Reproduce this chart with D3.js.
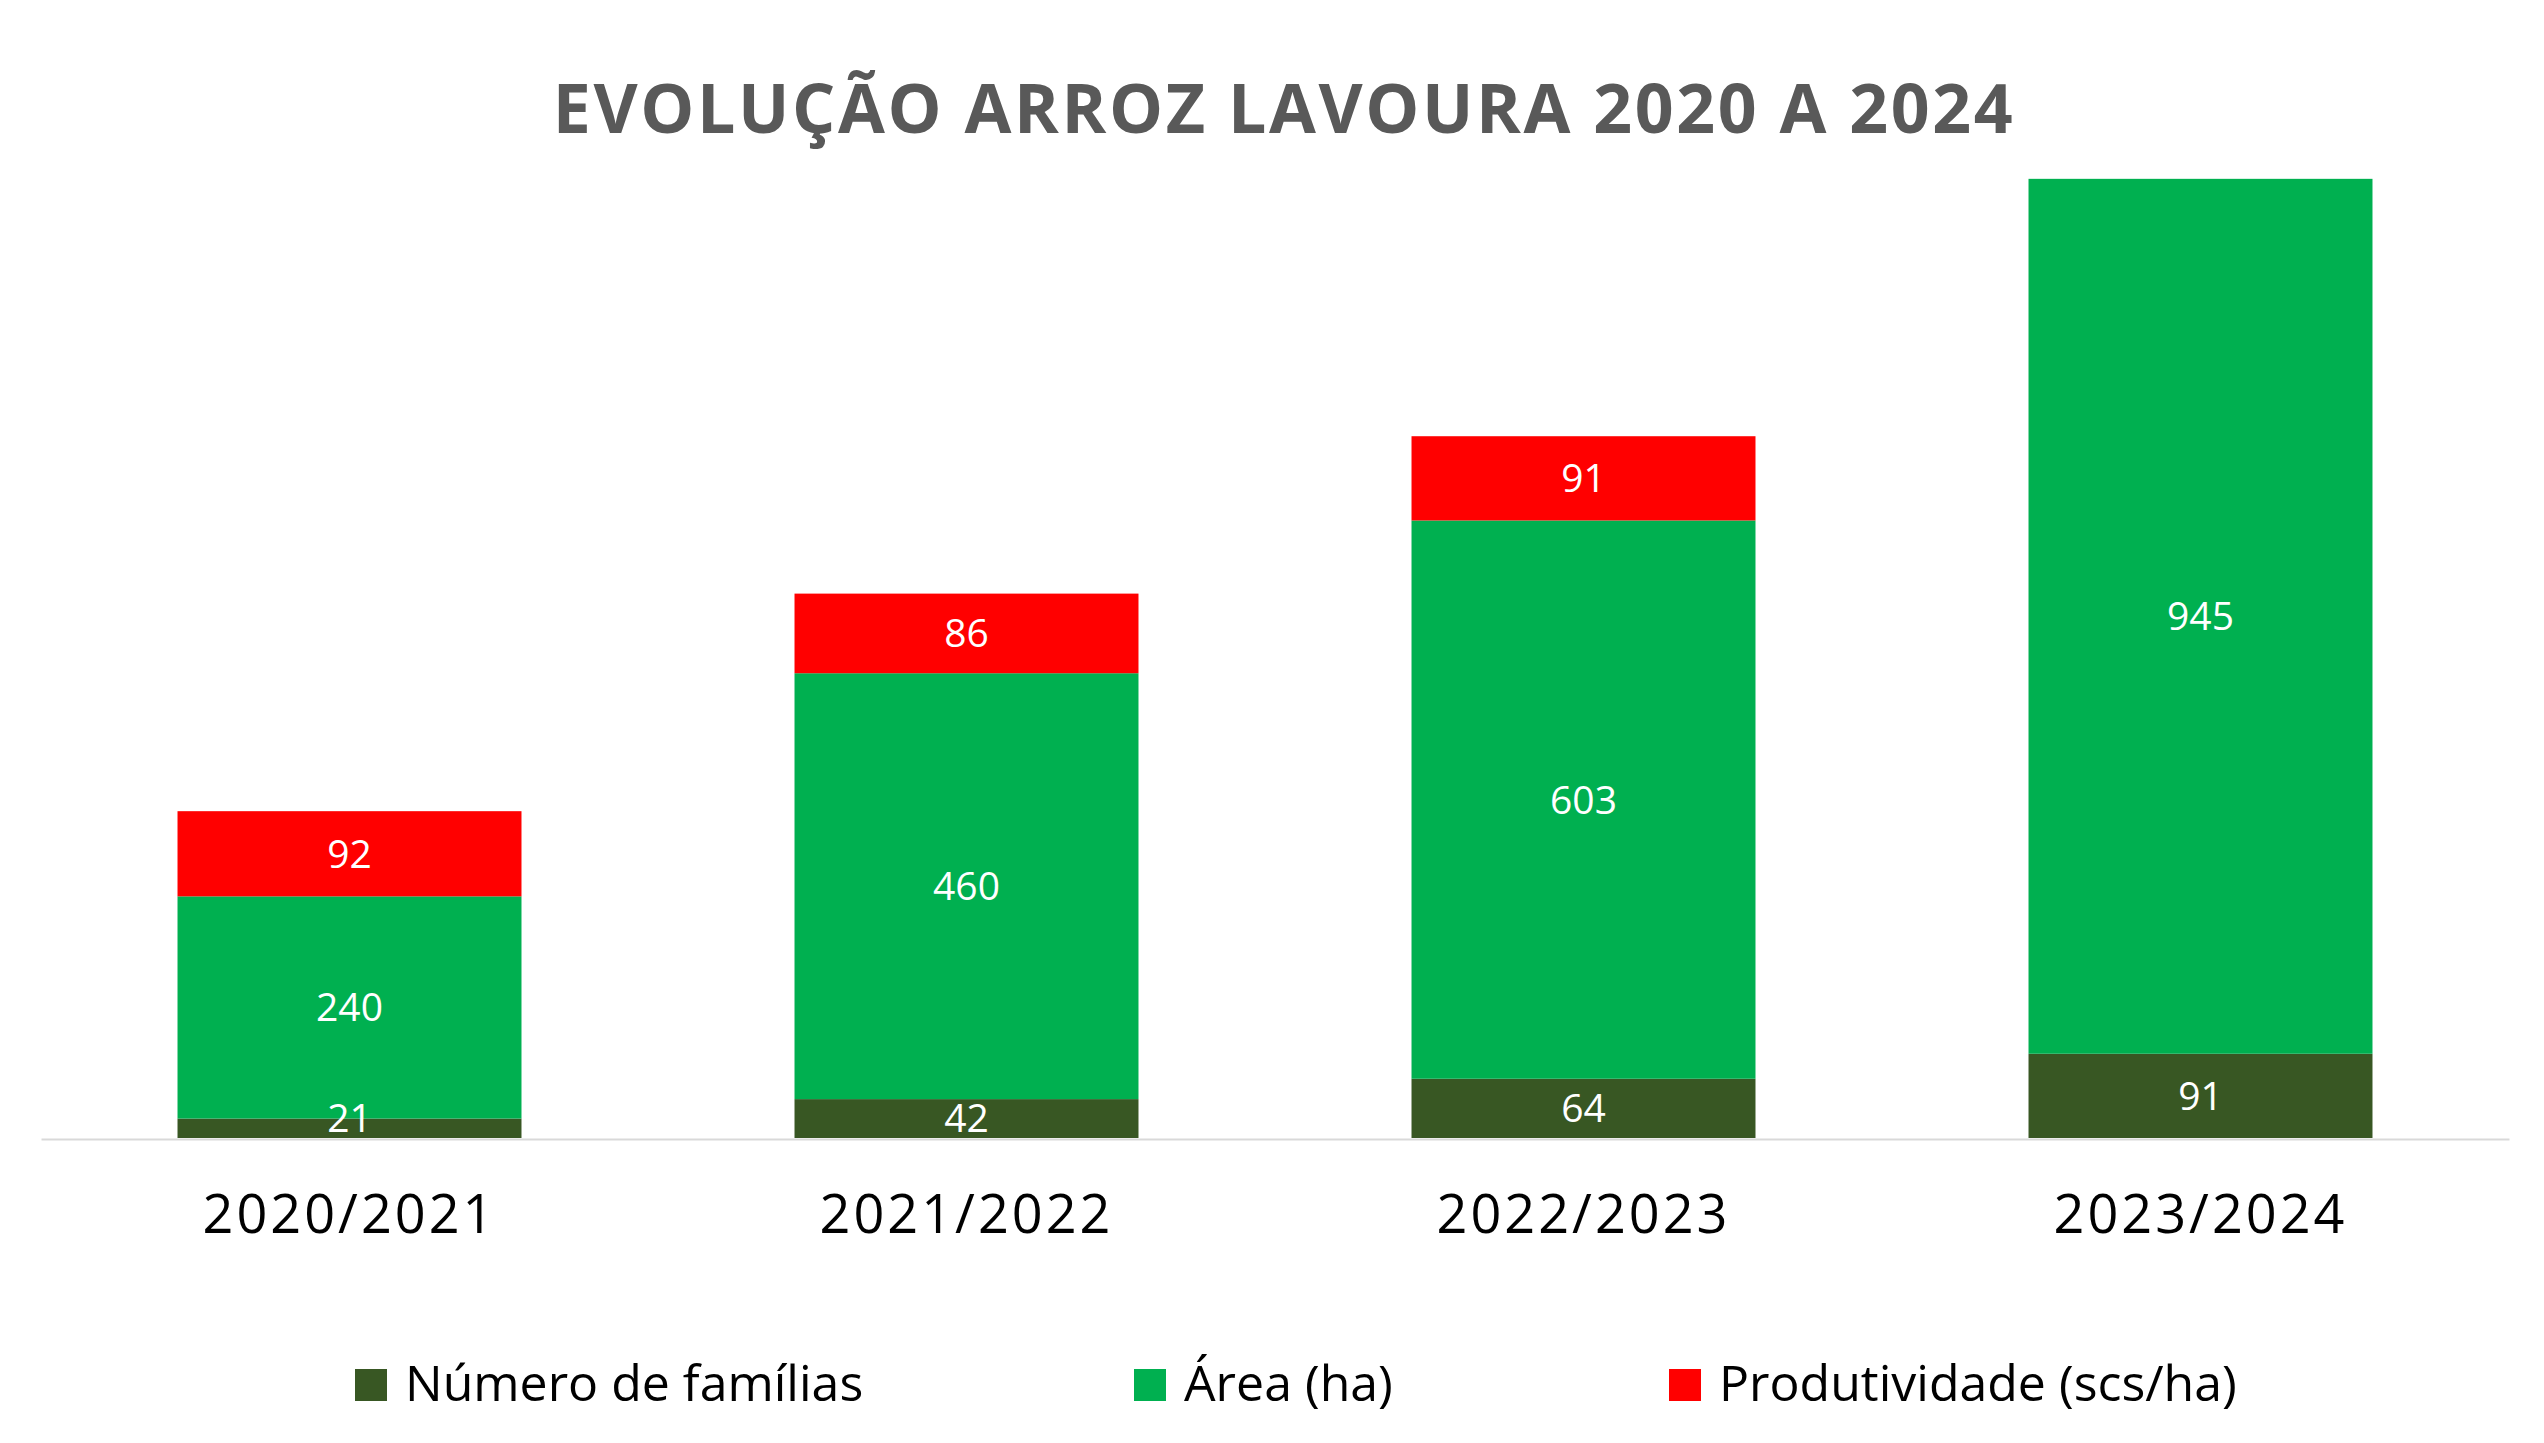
<!DOCTYPE html>
<html>

<head>
  <meta charset="utf-8">
  <title>Evolução Arroz Lavoura</title>
  <script type="text/javascript" src="https://cdn.jsdelivr.net/npm/d3@7"></script>
  <style>
    body { margin: 0; background: #fff; }
    .chart text { font-family: "Open Sans", sans-serif; }
  </style>
</head>

<body>
  <svg class="chart"></svg>
</body>
<script>
  //1. Prepare The Data
  var categories = ["2020/2021", "2021/2022", "2022/2023", "2023/2024"];
  var seriesNames = ["Número de famílias", "Área (ha)", "Produtividade (scs/ha)"];
  var familias = [21, 42, 64, 91];
  var area = [240, 460, 603, 945];
  var produtividade = [92, 86, 91, null];
  var colors = ["#385723", "#00B050", "#FF0000"];

  var rows = categories.map(function(c, i) {
    return {cat: c, s0: familias[i], s1: area[i], s2: produtividade[i] || 0};
  });

  //2. UI Component Properties
  var SVGWidth = 2544,
  SVGHeight = 1443,
  baseline = 1138;

  //3. Scaling
  var x = d3.scaleBand()
  .domain(categories)
  .range([41, 2509])
  .paddingInner(0.4425)
  .paddingOuter(0.22125);

  var y = d3.scaleLinear()
  .domain([0, 1200])
  .range([baseline, baseline - 1111]);

  var stack = d3.stack().keys(["s0", "s1", "s2"]);
  var layers = stack(rows);

  //4. Chart
  var SVGchart = d3.select(".chart")
  .attr("width", SVGWidth)
  .attr("height", SVGHeight);

  //5. Title
  SVGchart.append("text")
  .attr("x", 1284)
  .attr("y", 133)
  .attr("text-anchor", "middle")
  .style("font-size", "68px")
  .style("font-weight", "bold")
  .style("letter-spacing", "2.6px")
  .style("fill", "#595959")
  .text("EVOLUÇÃO ARROZ LAVOURA 2020 A 2024");

  //6. Bars
  var layer = SVGchart.selectAll("g.layer")
  .data(layers)
  .enter().append("g")
  .attr("class", "layer")
  .style("fill", function(d, i) { return colors[i]; });

  layer.selectAll("rect")
  .data(function(d) { return d; })
  .enter().append("rect")
  .attr("x", function(d) { return x(d.data.cat); })
  .attr("y", function(d) { return y(d[1]); })
  .attr("width", x.bandwidth())
  .attr("height", function(d) { return y(d[0]) - y(d[1]); });

  //7. Axis line
  var xAxis = SVGchart.append("g")
  .attr("transform", "translate(0," + (baseline + 1) + ")")
  .call(d3.axisBottom(x).tickSize(0).tickPadding(56));
  xAxis.select(".domain").attr("stroke", "#D9D9D9").attr("stroke-width", 2);
  xAxis.selectAll("text")
  .style("font-family", "Open Sans, sans-serif")
  .style("font-size", "54px")
  .style("letter-spacing", "3px")
  .style("fill", "#000");

  //8. Data labels (drawn after all bars so none is covered)
  var labels = SVGchart.selectAll("g.labels")
  .data(layers)
  .enter().append("g")
  .attr("class", "labels");

  labels.selectAll("text")
  .data(function(d) { return d.filter(function(p) { return p[1] > p[0]; }); })
  .enter().append("text")
  .attr("x", function(d) { return x(d.data.cat) + x.bandwidth() / 2; })
  .attr("y", function(d) {
    var mid = (y(d[0]) + y(d[1])) / 2;
    return Math.min(mid, baseline - 20);
  })
  .attr("dy", "0.36em")
  .attr("text-anchor", "middle")
  .style("font-size", "39px")
  .style("fill", "#fff")
  .text(function(d) { return d[1] - d[0]; });

  //9. Legend
  var legendX = [355, 1134, 1669];
  var legend = SVGchart.selectAll("g.legend")
  .data(seriesNames)
  .enter().append("g")
  .attr("class", "legend")
  .attr("transform", function(d, i) { return "translate(" + legendX[i] + ",1369)"; });

  legend.append("rect")
  .attr("width", 32)
  .attr("height", 32)
  .style("fill", function(d, i) { return colors[i]; });

  legend.append("text")
  .attr("x", 50)
  .attr("y", 32)
  .style("font-size", "50px")
  .style("fill", "#000")
  .text(function(d) { return d; });

</script>

</html>
